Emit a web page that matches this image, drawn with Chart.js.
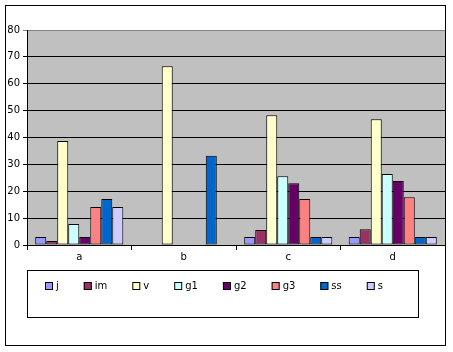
<!DOCTYPE html>
<html>
<head>
<meta charset="utf-8">
<script src="https://cdn.jsdelivr.net/npm/chart.js@4.4.1/dist/chart.umd.min.js"></script>
<style>
  html, body { margin: 0; padding: 0; background: #fff; }
  #wrap { width: 453px; height: 352px; }
</style>
</head>
<body>
<div id="wrap"><canvas id="grafico" width="453" height="352"></canvas></div>
<script>
// datos
const categorias = ["a", "b", "c", "d"];
const series = ["j", "im", "v", "g1", "g2", "g3", "ss", "s"];
const colores = ["#9999FF", "#993366", "#FFFFCC", "#CCFFFF", "#660066", "#FF8080", "#0066CC", "#CCCCFF"];

const valJ  = [3, 0, 3, 3];
const valIm = [1.5, 0, 5.6, 5.9];
const valV  = [38.7, 66.5, 48.3, 46.8];
const valG1 = [7.8, 0, 25.6, 26.4];
const valG2 = [3, 0, 23, 23.8];
const valG3 = [14.1, 0, 17.1, 17.8];
const valSs = [17.1, 33.2, 3, 3];
const valS  = [14.1, 0, 3, 3];
const valores = [valJ, valIm, valV, valG1, valG2, valG3, valSs, valS];

const yTicks = [0, 10, 20, 30, 40, 50, 60, 70, 80];

const FUENTE = "DejaVu Sans";

// fondo, area gris, marco y leyenda propia
const marco = {
    id: "marco",
    beforeDraw(chart) {
        const ctx = chart.ctx;
        const a = chart.chartArea;
        ctx.save();
        ctx.fillStyle = "#fff";
        ctx.fillRect(0, 0, chart.width, chart.height);
        ctx.fillStyle = "#C0C0C0";
        ctx.fillRect(a.left, a.top, a.right - a.left, a.bottom - a.top);
        ctx.restore();
    },
    afterDraw(chart) {
        const ctx = chart.ctx;
        ctx.save();
        ctx.strokeStyle = "#000";
        ctx.lineWidth = 1;
        ctx.strokeRect(5.5, 5.5, 440, 340);

        // caja de leyenda
        ctx.strokeRect(27.5, 270.5, 391, 47);
        ctx.font = "10px '" + FUENTE + "'";
        ctx.textBaseline = "middle";
        let x = 45;
        const y = 286;
        chart.data.datasets.forEach(ds => {
            ctx.fillStyle = ds.backgroundColor;
            ctx.fillRect(x, y - 4, 8, 8);
            ctx.strokeStyle = "#000";
            ctx.strokeRect(x + 0.5, y - 3.5, 7, 7);
            ctx.fillStyle = "#000";
            ctx.fillText(ds.label, x + 11, y);
            x += 11 + ctx.measureText(ds.label).width + 25;
        });
        ctx.restore();
    }
};

new Chart(document.getElementById("grafico"), {
    type: "bar",
    data: {
        labels: categorias,
        datasets: series.map((s, i) => ({
            label: s,
            data: valores[i],
            backgroundColor: colores[i],
            borderColor: "#000",
            borderWidth: 1,
            borderSkipped: false,
            categoryPercentage: 0.843,
            barPercentage: 1
        }))
    },
    options: {
        responsive: false,
        animation: false,
        devicePixelRatio: 1,
        layout: { padding: { left: 5, top: 30, right: 8, bottom: 80 } },
        plugins: {
            legend: { display: false },
            tooltip: { enabled: false }
        },
        scales: {
            x: {
                afterFit: s => { s.height = 27; },
                grid: {
                    offset: true,
                    drawOnChartArea: false,
                    drawTicks: true,
                    tickLength: 5,
                    color: "#000"
                },
                border: { color: "#000", width: 1 },
                ticks: {
                    padding: 1,
                    color: "#000",
                    font: { family: FUENTE, size: 10 }
                }
            },
            y: {
                min: 0,
                max: 80,
                afterFit: s => { s.width = 22; },
                afterBuildTicks: s => { s.ticks = yTicks.map(v => ({ value: v })); },
                grid: {
                    color: c => c.tick && c.tick.value === 80 ? "#808080" : "#000",
                    drawTicks: true,
                    tickLength: 4
                },
                border: { color: "#000", width: 1 },
                ticks: {
                    padding: 3,
                    color: "#000",
                    font: { family: FUENTE, size: 10 }
                }
            }
        }
    },
    plugins: [marco]
});
</script>
</body>
</html>
